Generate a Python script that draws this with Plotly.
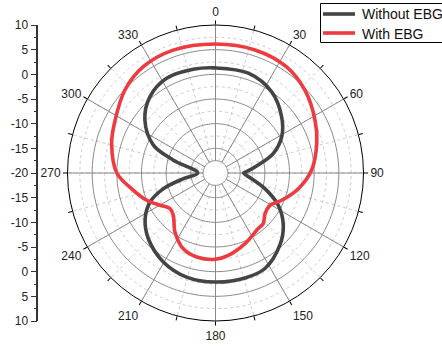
import numpy as np
import plotly.graph_objects as go

# ---- data (angle in degrees, gain in dB) ----
theta_without = [0, 18.2, 34.7, 49.6, 61.3, 71.2, 79.4, 87.6, 90, 99, 107.6, 117.2, 127.6,
                 138.3, 152.6, 164.3, 180, 195.5, 210.4, 225.6, 237, 246.1, 253.3, 260, 270,
                 287.1, 294.2, 306.9, 319.4, 332.7, 347.9, 360]
gain_without = [1.3, 1.3, 0.0, -2.4, -4.7, -7.6, -11.2, -13.7, -14.3, -12.6, -9.5, -5.7, -2.65,
                -0.4, 1.8, 2.1, 2.1, 1.9, 0.9, -0.95, -3.0, -5.5, -9.0, -13.4, -16.4,
                -11.0, -6.2, -2.1, 0.4, 1.6, 1.5, 1.3]

theta_with = [0, 17.8, 33.8, 47.2, 62, 73.6, 88.2, 100.7, 112.4, 120.7, 129.4, 136.7, 142.5,
              157.3, 171.2, 180, 192.6, 203, 214.5, 225, 231.9, 239.8, 248.4, 258.1, 270,
              286, 297.8, 312.5, 325.8, 341, 360]
gain_with = [6.15, 6.2, 5.9, 4.7, 2.85, 1.4, -0.5, -2.9, -5.5, -7.15, -7.0, -5.9, -5.8,
             -4.5, -3.1, -2.5, -2.55, -3.3, -5.5, -7.9, -8.3, -7.0, -5.0, -3.0, 0.0,
             1.9, 3.0, 4.9, 6.05, 6.35, 6.15]

series_names = ["Without EBG", "With EBG"]
series_colors = ["#444444", "#ee3b41"]

r_min, r_max = -20, 10
inner_r = -17.5
major_circles = [-15, -10, -5, 0, 5]
minor_circles = [-17.5, -12.5, -7.5, -2.5, 2.5, 7.5]
angle_ticks = list(range(0, 360, 15))
angle_labels = [str(a) if a % 30 == 0 else "" for a in angle_ticks]
left_tickvals = list(range(-30, 31, 5))
left_ticktext = [str(abs(v) - 20) for v in left_tickvals]

FONT = "Arial, Liberation Sans, sans-serif"
W, H = 442, 347
cx, cy, R = 215.5, 173.0, 148.0

fig = go.Figure()

# ---- grid helpers ----
circ = np.linspace(0, 360, 181)
fig.add_trace(go.Scatterpolar(r=[inner_r] * len(circ), theta=circ, mode="lines",
                              fill="toself", fillcolor="white",
                              line=dict(color="#8a8a8a", width=1),
                              showlegend=False, hoverinfo="skip"))
rr, tt = [], []
for c in major_circles:
    rr += [c] * len(circ) + [None]
    tt += list(circ) + [None]
fig.add_trace(go.Scatterpolar(r=rr, theta=tt, mode="lines",
                              line=dict(color="#8a8a8a", width=1),
                              showlegend=False, hoverinfo="skip"))
rr, tt = [], []
for a in range(0, 360, 30):
    rr += [inner_r, r_max, None]
    tt += [a, a, None]
fig.add_trace(go.Scatterpolar(r=rr, theta=tt, mode="lines",
                              line=dict(color="#8a8a8a", width=1),
                              showlegend=False, hoverinfo="skip"))

# ---- data traces ----
for name, th, g, col in [(series_names[0], theta_without, gain_without, series_colors[0]),
                         (series_names[1], theta_with, gain_with, series_colors[1])]:
    fig.add_trace(go.Scatterpolar(r=g, theta=th, mode="lines", name=name,
                                  line=dict(color=col, width=3.6, shape="spline", smoothing=1.0),
                                  hoverinfo="skip", showlegend=False))

fig.add_trace(go.Scatter(x=[], y=[], xaxis="x", yaxis="y", showlegend=False, hoverinfo="skip"))

x0 = (cx - R) / W
x1 = (cx + R) / W
y0 = 1 - (cy + R) / H
y1 = 1 - (cy - R) / H
axis_x = 38.3 / W

# ---- legend box (Origin style) ----
def px(x):
    return x / W

def py(y):
    return 1 - y / H

shapes = [dict(type="rect", xref="paper", yref="paper",
               x0=px(320.5), x1=px(446), y0=py(42.5), y1=py(3.5),
               line=dict(color="black", width=1), fillcolor="white", layer="above")]
annotations = []
for i, (name, col) in enumerate(zip(series_names, series_colors)):
    yrow = 14 + 19 * i
    shapes.append(dict(type="line", xref="paper", yref="paper",
                       x0=px(323), x1=px(355), y0=py(yrow), y1=py(yrow),
                       line=dict(color=col, width=3.6), layer="above"))
    annotations.append(dict(xref="paper", yref="paper", x=px(360), y=py(yrow + 0.5),
                            xanchor="left", yanchor="middle", showarrow=False,
                            text=name, font=dict(family=FONT, size=14, color="#111111")))

fig.update_layout(
    width=W, height=H, autosize=False,
    margin=dict(l=0, r=0, t=0, b=0, pad=0, autoexpand=False),
    paper_bgcolor="white", plot_bgcolor="white",
    font=dict(family=FONT, size=12, color="#222222"),
    polar=dict(
        domain=dict(x=[x0, x1], y=[y0, y1]),
        bgcolor="white",
        radialaxis=dict(range=[r_min, r_max], tickvals=minor_circles, showticklabels=False,
                        ticks="", showline=False, gridcolor="#cccccc", griddash="dot",
                        gridwidth=1),
        angularaxis=dict(direction="clockwise", rotation=90, tickmode="array",
                         tickvals=angle_ticks, ticktext=angle_labels,
                         showline=True, linecolor="black", linewidth=1,
                         ticks="outside", ticklen=4, tickcolor="black",
                         gridcolor="#cccccc", griddash="dot", gridwidth=1,
                         tickfont=dict(family=FONT, size=12, color="#222222")),
    ),
    xaxis=dict(domain=[axis_x, axis_x + 0.01], visible=False, range=[0, 1]),
    yaxis=dict(domain=[y0, y1], range=[-30, 30], anchor="x", side="left",
               tickmode="array", tickvals=left_tickvals, ticktext=left_ticktext,
               showline=True, linecolor="#333333", linewidth=1.5,
               ticks="outside", ticklen=6, tickcolor="#333333", tickwidth=1,
               showgrid=False, zeroline=False,
               minor=dict(ticks="outside", ticklen=3, dtick=2.5, tick0=0,
                          tickcolor="#333333", showgrid=False),
               tickfont=dict(family=FONT, size=12, color="#222222")),
    shapes=shapes,
    annotations=annotations,
    showlegend=False,
)

fig.write_html("out.html")
